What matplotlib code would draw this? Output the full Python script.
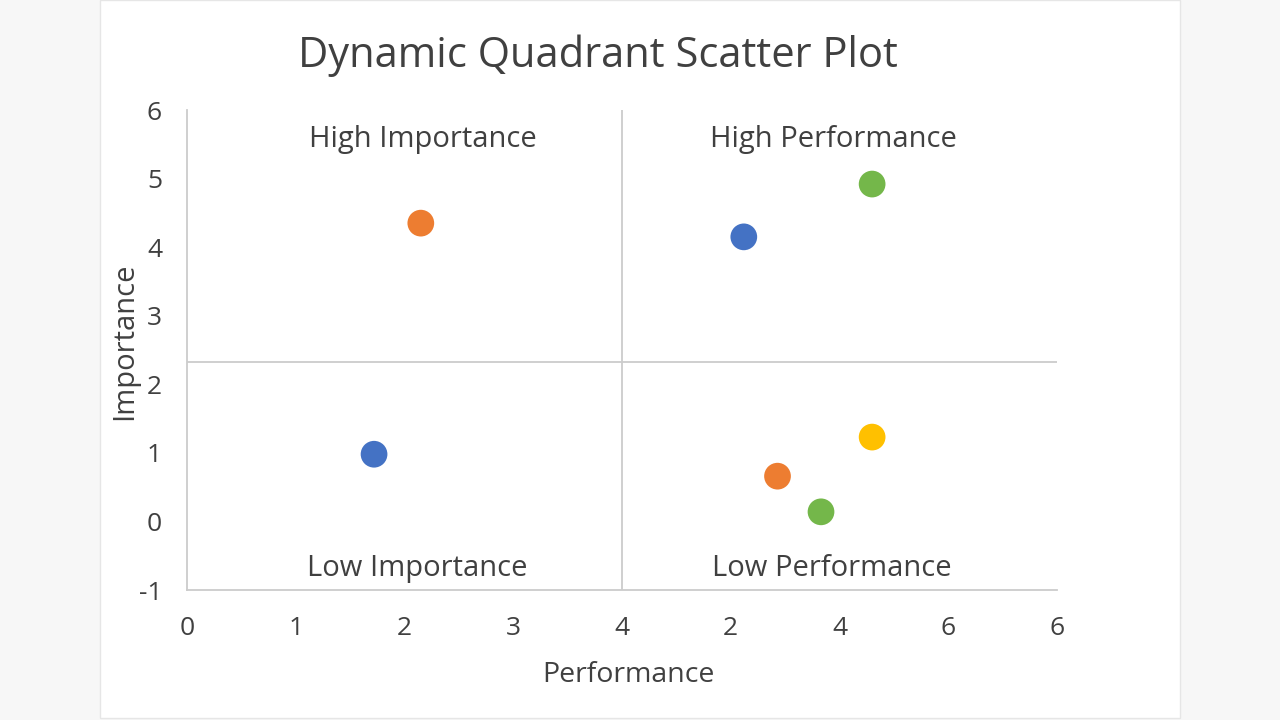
import matplotlib
matplotlib.use("Agg")
import matplotlib.pyplot as plt
from matplotlib.patches import Rectangle

plt.rcParams['font.family'] = ['Open Sans', 'DejaVu Sans']

# Data
x_vals = [2.15, 1.72, 5.12, 6.30, 6.30, 5.43, 5.83]
y_vals = [4.35, 0.98, 4.15, 4.92, 1.23, 0.66, 0.14]
colors = ['#ED7D31', '#4472C4', '#4472C4', '#74B74A', '#FFC000', '#ED7D31', '#74B74A']
x_ticks = [0, 1, 2, 3, 4, 5, 6, 7, 8]
x_tick_labels = ['0', '1', '2', '3', '4', '2', '4', '6', '6']
y_ticks = [-1, 0, 1, 2, 3, 4, 5, 6]
x_split = 4
y_split = 2.32
quadrant_labels = ['High Importance', 'High Performance', 'Low Importance', 'Low Performance']

text_col = '#404040'
grid_col = '#cccccc'

fig = plt.figure(figsize=(12.8, 7.2), dpi=100, facecolor='#f7f7f7')
card = Rectangle((100/1280, 2/720), 1080/1280, 718/720, transform=fig.transFigure,
                 facecolor='white', edgecolor='#e6e6e6', linewidth=1, zorder=-5)
fig.patches.append(card)

ax = fig.add_axes([187/1280, 1 - 590/720, 870/1280, 480/720])
ax.set_facecolor('none')
ax.set_xlim(0, 8)
ax.set_ylim(-1, 6)

ax.axvline(x_split, color=grid_col, linewidth=1.3, zorder=1)
ax.axhline(y_split, color=grid_col, linewidth=1.3, zorder=1)

ax.scatter(x_vals, y_vals, s=370, c=colors, zorder=3, linewidths=0)

for s in ['top', 'right']:
    ax.spines[s].set_visible(False)
for s in ['left', 'bottom']:
    ax.spines[s].set_color(grid_col)
    ax.spines[s].set_linewidth(1.3)

ax.set_xticks(x_ticks)
ax.set_xticklabels(x_tick_labels)
ax.set_yticks(y_ticks)
ax.set_yticklabels([str(v) for v in y_ticks])
ax.tick_params(axis='both', length=0, labelsize=19, colors=text_col)
ax.tick_params(axis='x', pad=19)
ax.tick_params(axis='y', pad=18)

ax.set_xlabel('Performance', fontsize=20.5, color=text_col, va='center')
ax.set_ylabel('Importance', fontsize=21, color=text_col, va='center')
ax.xaxis.set_label_coords(0.507, -0.177)
ax.yaxis.set_label_coords(-0.0713, 0.519)

ax.text(2.17, 5.57, quadrant_labels[0], fontsize=21, color=text_col, ha='center', va='center')
ax.text(5.94, 5.57, quadrant_labels[1], fontsize=21, color=text_col, ha='center', va='center')
ax.text(2.12, -0.68, quadrant_labels[2], fontsize=21, color=text_col, ha='center', va='center')
ax.text(5.93, -0.68, quadrant_labels[3], fontsize=21, color=text_col, ha='center', va='center')

fig.text(598/1280, 1 - 56/720, 'Dynamic Quadrant Scatter Plot', fontsize=30,
         color=text_col, ha='center', va='center')

fig.savefig('out.png', dpi=100, facecolor=fig.get_facecolor())
